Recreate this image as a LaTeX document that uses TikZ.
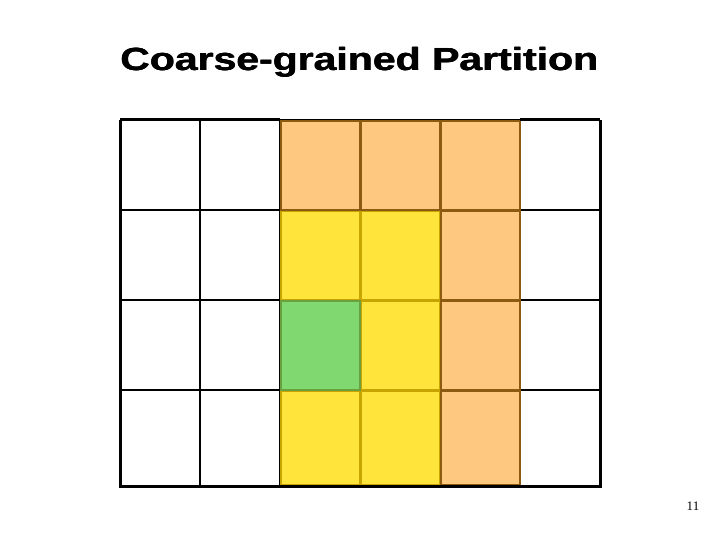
\documentclass[tikz,border=0pt]{standalone}
\usepackage{fontspec}
\setmainfont{Liberation Serif}
\newfontfamily\titlefont{Liberation Sans}
\definecolor{orangefill}{HTML}{FFC880}
\definecolor{orangeline}{HTML}{8C5A10}
\definecolor{yellowfill}{HTML}{FFE43C}
\definecolor{yellowline}{HTML}{C8A400}
\definecolor{greenfill}{HTML}{80D870}
\definecolor{greenline}{HTML}{6AA040}
\newcommand{\titletext}{\scalebox{1.28}[1]{\titlefont\fontsize{32}{36}\selectfont\bfseries Coarse-grained Partition}}
\begin{document}
\begin{tikzpicture}[x=1pt,y=-1pt,
  gridline/.style={draw=black,line width=2pt},
  outerline/.style={draw=black,line width=3pt},
  orangecell/.style={fill=orangefill,draw=orangeline,line width=1.6pt},
  yellowcell/.style={fill=yellowfill,draw=yellowline,line width=1.6pt},
  greencellb/.style={fill=greenfill,draw=greenline,line width=1.2pt},
  titlestyle/.style={inner sep=0pt}]
\useasboundingbox (0,0) rectangle (720,540);
% black grid
\foreach \x in {200,280,360,440,520} \draw[gridline] (\x,120) -- (\x,486);
\foreach \y in {210,300,390} \draw[gridline] (120,\y) -- (600,\y);
% coloured cells
\foreach \x/\y/\h in {280/210/90,280/390/95,360/210/90,360/300/90,360/390/95}
  \draw[yellowcell] (\x+1,\y+1) rectangle (\x+80,\y+\h);
\draw[greencellb] (281,301) rectangle (360,390);
\foreach \x/\y/\h in {280/120/90,360/120/90,440/120/90,440/210/90,440/300/90,440/390/95}
  \draw[orangecell] (\x+1,\y+1) rectangle (\x+80,\y+\h);
% outer frame
\draw[outerline] (120,120) -- (280,120);
\draw[outerline] (520,120) -- (600,120);
\draw[line width=1.5pt,black] (280,119.5) -- (520,119.5);
\draw[outerline] (600,120) -- (600,486) -- (120,486) -- (120,120);
% title and page number (overlaid copies for a heavier weight)
\node[titlestyle] (title) at (359,62) {\titletext};
\node[titlestyle] (titleb) at (359.7,62) {\titletext};
\node[titlestyle] (titlec) at (359.35,62.4) {\titletext};
\node (page) at (693,506) {\fontsize{13}{15}\selectfont 11};
\end{tikzpicture}
\end{document}
